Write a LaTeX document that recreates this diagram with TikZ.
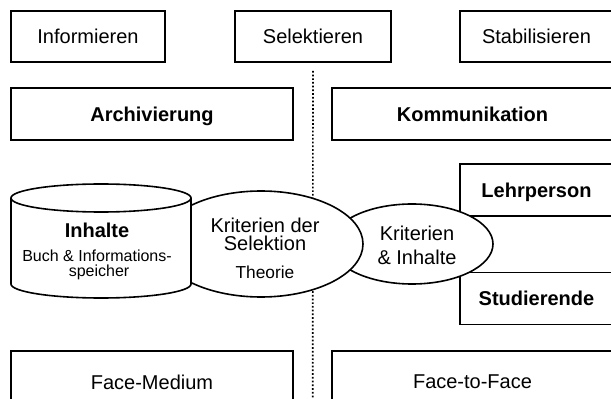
\documentclass[tikz,border=0pt]{standalone}
\usepackage{fontspec}
\setmainfont{Liberation Sans}
\usetikzlibrary{shapes.geometric}
\tikzset{
  box/.style={draw, line width=1.2pt, fill=white, inner sep=0pt, text depth=0pt,
    font=\fontsize{15}{18}\selectfont},
  boldbox/.style={box, font=\fontsize{15}{18}\selectfont\bfseries},
  oval/.style={ellipse, draw, line width=1.2pt, fill=white, inner sep=0pt},
  txt/.style={inner sep=0pt, text depth=0pt, font=\fontsize{15}{18}\selectfont},
  smalltxt/.style={inner sep=0pt, text depth=0pt, font=\fontsize{12}{14}\selectfont},
}
\begin{document}
\begin{tikzpicture}[x=0.75pt,y=-0.75pt]
  \clip (0,0) rectangle (611,399);
  \node[box, minimum width=115.5pt, minimum height=38.25pt] (inf) at (88,36.5) {Informieren};
  \node[box, minimum width=117pt, minimum height=38.25pt] (sel) at (313,36.5) {Selektieren};
  \node[box, minimum width=114.75pt, minimum height=38.25pt] (stab) at (536.5,36.5) {Stabilisieren};
  \coordinate (trennende) at (312.7,399);
  \draw[line width=1.2pt, dash pattern=on 1.3pt off 1.5pt] ([yshift=-6pt]sel.south) -- (trennende);
  \node[boldbox, minimum width=211.5pt, minimum height=39pt] (arch) at (152,114) {Archivierung};
  \node[boldbox, minimum width=210.75pt, minimum height=39pt] (komm) at (472.5,114) {Kommunikation};
  \node[boldbox, minimum width=114.75pt, minimum height=39pt] (lehr) at (536.5,190) {Lehrperson};
  \node[boldbox, minimum width=114.75pt, minimum height=39pt] (stud) at (536.5,298.5) {Studierende};
  \node[box, minimum width=211.5pt, minimum height=46.5pt] (fm) at (152,382) {Face-Medium};
  \node[box, minimum width=210.75pt, minimum height=46.5pt] (ftf) at (472.5,382) {Face-to-Face};
  \node[oval, minimum width=121.5pt, minimum height=60pt] (kritinh) at (412,244) {};
  \node[txt] (kritinh1) at (417,233) {Kriterien};
  \node[txt] (kritinh2) at (417,257) {\& Inhalte};
  \node[oval, minimum width=153pt, minimum height=79.5pt] (kritsel) at (261,244) {};
  \node[txt] (kritsel1) at (265,225) {Kriterien der};
  \node[txt] (kritsel2) at (265,243) {Selektion};
  \node[txt, font=\fontsize{13}{15}\selectfont] (theorie) at (265,272) {Theorie};
  \draw[line width=1.2pt, fill=white] (11,198) -- (11,284)
    arc[start angle=180, end angle=0, x radius=90, y radius=14] -- (191,198);
  \draw[line width=1.2pt, fill=white] (101,198) ellipse[x radius=90, y radius=14];
  \node[txt, font=\fontsize{15}{18}\selectfont\bfseries] (inhalte) at (97,230) {Inhalte};
  \node[smalltxt] (buch) at (97,256) {Buch \& Informations-};
  \node[smalltxt] (speicher) at (99,271) {speicher};
\end{tikzpicture}
\end{document}
